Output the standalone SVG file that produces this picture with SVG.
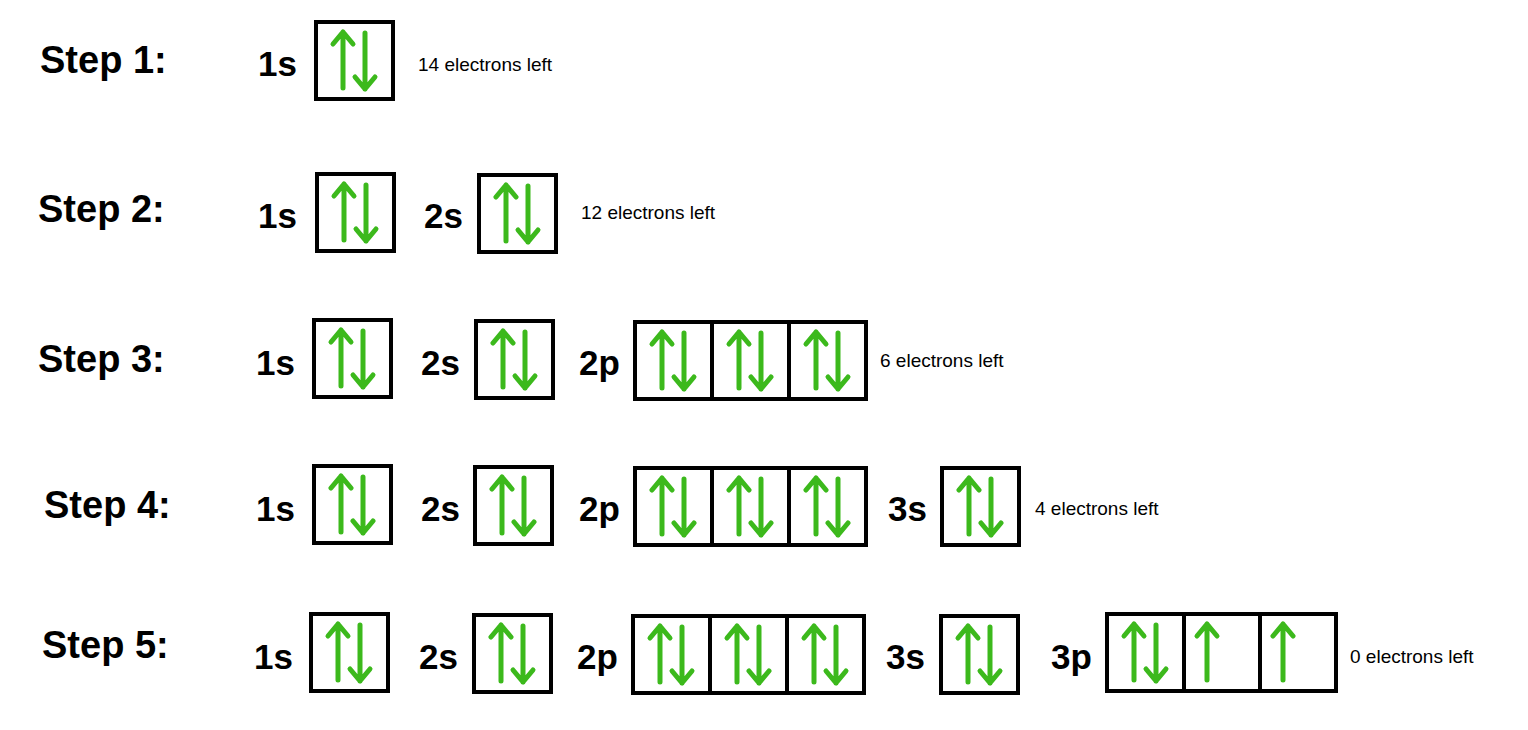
<svg xmlns="http://www.w3.org/2000/svg" xmlns:xlink="http://www.w3.org/1999/xlink" width="1528" height="730" viewBox="0 0 1528 730">
<style>
.st{font-family:"Liberation Sans",Arial,sans-serif;font-weight:bold;font-size:38px;fill:#000}
.lb{font-family:"Liberation Sans",Arial,sans-serif;font-weight:bold;font-size:35px;fill:#000}
.nt{font-family:"Liberation Sans",Arial,sans-serif;font-size:19px;fill:#000}
.bx{fill:#fff;stroke:#000;stroke-width:4}
.ar{fill:none;stroke:#3cb91c;stroke-width:5;stroke-linecap:round;stroke-linejoin:round}
</style>
<defs>
<g id="up"><path class="ar" d="M0 66V10M-10 22L0 10L10 22"/></g>
<g id="dn"><path class="ar" d="M0 11V67M-10 55L0 67L10 55"/></g>
<g id="pair"><use xlink:href="#up" x="27"/><use xlink:href="#dn" x="49"/></g>
<g id="box"><rect class="bx" x="0" y="0" width="77" height="77"/><use xlink:href="#pair"/></g>
<g id="box3"><rect class="bx" x="0" y="0" width="77" height="77"/><rect class="bx" x="77" y="0" width="77" height="77"/><rect class="bx" x="154" y="0" width="77" height="77"/><use xlink:href="#pair"/><use xlink:href="#pair" x="77"/><use xlink:href="#pair" x="154"/></g>
</defs>
<g id="row1">
<text class="st" x="40" y="73">Step 1:</text>
<text class="lb" x="258" y="76">1s</text><use xlink:href="#box" x="316" y="22"/>
<text class="nt" x="418" y="71">14 electrons left</text>
</g>
<g id="row2">
<text class="st" x="38" y="222">Step 2:</text>
<text class="lb" x="258" y="228">1s</text><use xlink:href="#box" x="317" y="174"/>
<text class="lb" x="424" y="228">2s</text><use xlink:href="#box" x="479" y="175"/>
<text class="nt" x="581" y="219">12 electrons left</text>
</g>
<g id="row3">
<text class="st" x="38" y="372">Step 3:</text>
<text class="lb" x="256" y="375">1s</text><use xlink:href="#box" x="314" y="320"/>
<text class="lb" x="421" y="375">2s</text><use xlink:href="#box" x="476" y="321"/>
<text class="lb" x="579" y="375">2p</text><use xlink:href="#box3" x="635" y="322"/>
<text class="nt" x="880" y="367">6 electrons left</text>
</g>
<g id="row4">
<text class="st" x="44" y="518">Step 4:</text>
<text class="lb" x="256" y="521">1s</text><use xlink:href="#box" x="314" y="466"/>
<text class="lb" x="421" y="521">2s</text><use xlink:href="#box" x="475" y="467"/>
<text class="lb" x="579" y="521">2p</text><use xlink:href="#box3" x="635" y="468"/>
<text class="lb" x="888" y="521">3s</text><use xlink:href="#box" x="942" y="468"/>
<text class="nt" x="1035" y="515">4 electrons left</text>
</g>
<g id="row5">
<text class="st" x="42" y="658">Step 5:</text>
<text class="lb" x="254" y="669">1s</text><use xlink:href="#box" x="311" y="614"/>
<text class="lb" x="419" y="669">2s</text><use xlink:href="#box" x="474" y="615"/>
<text class="lb" x="577" y="669">2p</text><use xlink:href="#box3" x="633" y="616"/>
<text class="lb" x="886" y="669">3s</text><use xlink:href="#box" x="941" y="616"/>
<text class="lb" x="1051" y="669">3p</text>
<g><rect class="bx" x="1107" y="614" width="77" height="77"/><rect class="bx" x="1184" y="614" width="76" height="77"/><rect class="bx" x="1260" y="614" width="76" height="77"/>
<use xlink:href="#pair" x="1107" y="614"/><use xlink:href="#up" x="1207" y="614"/><use xlink:href="#up" x="1283" y="614"/></g>
<text class="nt" x="1350" y="663">0 electrons left</text>
</g>
<g id="connectors"></g>
</svg>
